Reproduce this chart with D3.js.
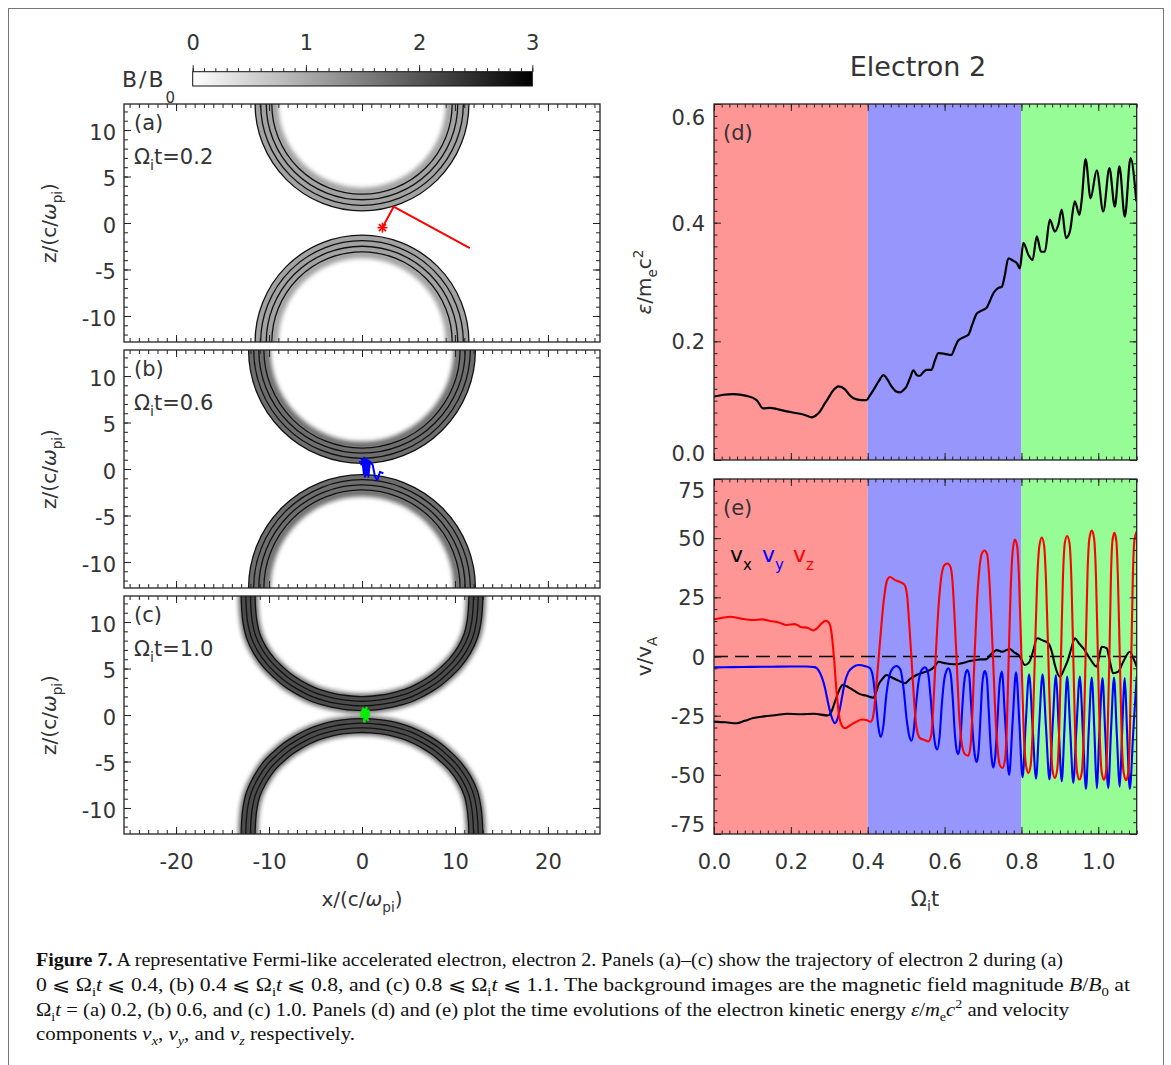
<!DOCTYPE html>
<html><head><meta charset="utf-8">
<script src="https://cdn.jsdelivr.net/npm/d3@7"></script>
<style>
body{margin:0;background:#fff}
svg{display:block}
text{font-family:"DejaVu Sans","Liberation Sans",Arial,sans-serif;fill:#333}
.cap text{font-family:"Liberation Serif","Times New Roman",serif;fill:#111}
</style>
</head><body>
<svg id="fig" width="1171" height="1065"></svg>
<script>
// ---------------- DATA ----------------
// Panel (d): kinetic energy eps/mec^2 vs Omega_i t
const energy = [[0,0.107],[0.025,0.110],[0.05,0.111],[0.085,0.108],[0.111,0.101],[0.128,0.087],[0.145,0.088],[0.163,0.086],[0.175,0.084],[0.189,0.082],[0.205,0.080],[0.224,0.078],[0.24,0.075],[0.254,0.072],[0.265,0.075],[0.276,0.082],[0.288,0.095],[0.297,0.104],[0.31,0.117],[0.324,0.124],[0.341,0.119],[0.352,0.110],[0.363,0.104],[0.384,0.101],[0.397,0.101],[0.405,0.108],[0.415,0.118],[0.428,0.132],[0.441,0.143],[0.452,0.135],[0.462,0.124],[0.473,0.116],[0.484,0.114],[0.493,0.118],[0.501,0.124],[0.51,0.138],[0.519,0.151],[0.528,0.143],[0.536,0.142],[0.546,0.149],[0.553,0.152],[0.566,0.152],[0.575,0.168],[0.584,0.180],[0.6,0.179],[0.618,0.177],[0.627,0.190],[0.636,0.202],[0.65,0.207],[0.662,0.211],[0.672,0.228],[0.684,0.247],[0.697,0.252],[0.709,0.256],[0.718,0.268],[0.727,0.281],[0.74,0.290],[0.749,0.292],[0.757,0.312],[0.766,0.340],[0.778,0.336],[0.788,0.332],[0.796,0.323],[0.805,0.366],[0.818,0.346],[0.829,0.337],[0.84,0.377],[0.851,0.351],[0.861,0.351],[0.874,0.405],[0.887,0.385],[0.896,0.396],[0.905,0.422],[0.916,0.374],[0.926,0.385],[0.939,0.436],[0.951,0.413],[0.957,0.439],[0.967,0.507],[0.98,0.441],[0.996,0.488],[1.013,0.419],[1.029,0.492],[1.043,0.427],[1.055,0.495],[1.069,0.410],[1.084,0.509],[1.099,0.436]];

// Panel (e): velocity components v/vA
const vx = [[0,-27.5],[0.03,-27.8],[0.059,-28.2],[0.08,-27.2],[0.102,-26.0],[0.13,-25.3],[0.163,-24.7],[0.19,-24.2],[0.224,-24.4],[0.26,-24.2],[0.297,-24.9],[0.305,-23.5],[0.315,-19.0],[0.325,-14.5],[0.335,-12.0],[0.345,-12.6],[0.354,-13.4],[0.37,-15.0],[0.38,-15.9],[0.395,-16.5],[0.415,-17.4],[0.422,-15],[0.428,-12.0],[0.438,-9.5],[0.449,-7.8],[0.458,-8.5],[0.467,-9.2],[0.48,-10.2],[0.497,-11.3],[0.51,-9.5],[0.527,-7.8],[0.545,-6.8],[0.566,-5.3],[0.575,-4.0],[0.584,-2.2],[0.6,-2.8],[0.615,-3.2],[0.632,-3.3],[0.65,-2.6],[0.666,-1.9],[0.69,-1.3],[0.709,-1.1],[0.72,0.8],[0.736,2.7],[0.75,2.0],[0.761,2.7],[0.77,3.2],[0.779,2.0],[0.796,0],[0.809,-3.6],[0.82,-2.5],[0.83,2.0],[0.841,7.7],[0.855,6.8],[0.87,5.6],[0.88,1.5],[0.887,-3.6],[0.9,-8.5],[0.912,-5.0],[0.921,-1.5],[0.93,3.5],[0.939,7.7],[0.95,5.5],[0.961,3.5],[0.978,-0.8],[0.996,-4.3],[1.003,0.5],[1.009,4.1],[1.022,3.5],[1.03,-2],[1.039,-7.1],[1.052,-6.4],[1.065,-2.2],[1.082,2.0],[1.092,-1.0],[1.1,-4.3]];

const vy = [[0,-4.6],[0.05,-4.5],[0.1,-4.4],[0.15,-4.3],[0.2,-4.2],[0.24,-4.2],[0.262,-4.5],[0.276,-7],[0.289,-13.4],[0.298,-20.5],[0.306,-25.5],[0.315,-28.2],[0.322,-26],[0.328,-21.8],[0.335,-15.5],[0.341,-10.6],[0.35,-6.5],[0.362,-4.5],[0.376,-3.6],[0.392,-4.0],[0.406,-5.0],[0.414,-9],[0.421,-19],[0.428,-30],[0.434,-34.0],[0.441,-29],[0.448,-17],[0.456,-8.5],[0.466,-4.8],[0.475,-4.0],[0.485,-5.5],[0.493,-13],[0.501,-26],[0.508,-33.5],[0.514,-35.6],[0.52,-31],[0.526,-20],[0.533,-10],[0.541,-5.5],[0.549,-4.6],[0.557,-7],[0.563,-16],[0.57,-30],[0.576,-37.5],[0.581,-39.3],[0.587,-34],[0.593,-20],[0.599,-10],[0.605,-6],[0.61,-5.0],[0.616,-7.5],[0.621,-17],[0.627,-33],[0.632,-40],[0.636,-41.2],[0.641,-36],[0.646,-22],[0.651,-11],[0.655,-7],[0.659,-5.7],[0.664,-8],[0.669,-20],[0.675,-36],[0.68,-43],[0.684,-44.6],[0.689,-39],[0.694,-24],[0.698,-12],[0.702,-7.2],[0.705,-6.1],[0.71,-9],[0.715,-23],[0.72,-38],[0.724,-45],[0.727,-46.9],[0.732,-42],[0.738,-26],[0.743,-12],[0.749,-6.4],[0.758,-28],[0.768,-50.0],[0.777,-28],[0.786,-6.7],[0.795,-29],[0.803,-51.1],[0.811,-29],[0.82,-7.5],[0.829,-29.5],[0.838,-51.6],[0.846,-29.5],[0.855,-7.5],[0.864,-30],[0.873,-52.0],[0.881,-30],[0.89,-7.8],[0.897,-30],[0.905,-52.7],[0.912,-30.5],[0.919,-8.5],[0.927,-31],[0.935,-53.4],[0.943,-31],[0.952,-8.5],[0.96,-32],[0.968,-56.0],[0.975,-32],[0.983,-8.9],[0.99,-32],[0.996,-55.6],[1.003,-32],[1.011,-9.1],[1.018,-32],[1.026,-55.6],[1.033,-32],[1.041,-8.9],[1.048,-32],[1.056,-55.0],[1.062,-32],[1.069,-9.1],[1.075,-32],[1.082,-56.0],[1.091,-32],[1.1,-8.5]];

const vz = [[0,15.7],[0.02,16.3],[0.042,16.8],[0.07,16.0],[0.102,15.4],[0.125,15.7],[0.146,15.0],[0.17,14.3],[0.189,13.3],[0.21,13.7],[0.224,12.6],[0.245,12.0],[0.258,11.0],[0.268,11.9],[0.28,14.0],[0.291,15.1],[0.299,14.3],[0.305,11.0],[0.312,0],[0.319,-15],[0.326,-25.5],[0.334,-29.5],[0.341,-30.3],[0.355,-29.0],[0.37,-27.6],[0.385,-26.6],[0.398,-26.9],[0.408,-27.6],[0.415,-24.5],[0.421,-15],[0.432,6.2],[0.442,24],[0.45,32],[0.458,33.6],[0.47,32.4],[0.484,31.5],[0.496,30.3],[0.503,25],[0.508,14],[0.514,-1],[0.52,-17],[0.527,-30],[0.536,-34.5],[0.548,-35.3],[0.558,-35.9],[0.565,-33.5],[0.571,-20],[0.577,0],[0.584,20.3],[0.591,33],[0.599,38.5],[0.607,39.3],[0.615,38.0],[0.62,33],[0.625,20],[0.631,0],[0.637,-22],[0.644,-36],[0.653,-41.3],[0.662,-41.9],[0.668,-37],[0.673,-22],[0.678,0],[0.684,22],[0.69,36],[0.697,43.5],[0.704,44.8],[0.711,43.0],[0.716,34],[0.721,18],[0.726,0],[0.731,-20],[0.737,-37],[0.744,-46],[0.751,-47.1],[0.757,-44],[0.762,-30],[0.767,0],[0.772,28],[0.777,44],[0.783,49.4],[0.789,46.5],[0.794,32],[0.8,0],[0.806,-32],[0.812,-46],[0.818,-49.2],[0.824,-46],[0.829,-32],[0.835,0],[0.841,32],[0.847,47],[0.853,50.3],[0.859,47],[0.864,32],[0.87,0],[0.876,-33],[0.881,-48],[0.887,-51.3],[0.893,-48],[0.898,-33],[0.903,0],[0.908,33],[0.913,48],[0.919,50.9],[0.925,48],[0.93,33],[0.935,0],[0.94,-34],[0.945,-49],[0.951,-52],[0.957,-49],[0.962,-34],[0.967,0],[0.972,35],[0.977,50],[0.983,53.2],[0.989,50],[0.994,34],[0.999,0],[1.004,-34],[1.009,-49],[1.015,-52.1],[1.02,-49],[1.024,-34],[1.029,0],[1.033,34],[1.037,49],[1.042,52.3],[1.047,49],[1.051,34],[1.056,0],[1.061,-34],[1.066,-49],[1.073,-52.3],[1.078,-49],[1.082,-34],[1.086,0],[1.09,34],[1.094,49],[1.1,52.8]];

// time phases shaded in (d),(e)
const phases = [0, 0.4, 0.8, 1.1];
const phaseColors = ["#ff9696", "#9696fc", "#96fc96"];

// Left panels (a)-(c): trajectories in x-z plane
const trajA = [[11.6,-2.7],[3.4,1.75],[2.2,-0.5]];
const trajB = [[2.3,-0.47],[1.94,-0.3],[1.65,-1.2],[1.4,-0.83],[1.15,0.43],[0.86,0.8],[0.68,-0.83],[0.5,1.0],[0.32,-0.83],[0.12,0.9],[0.45,-0.6],[0.72,0.9],[0.2,-0.5],[0.02,1.0],[0.55,0.2],[0.25,0.8]];
const trajC = [[0.3,-0.8],[0.1,0.7],[0.65,-0.55],[0.0,0.35],[0.75,0.45],[0.2,-0.7],[0.5,0.8],[-0.15,-0.2],[0.8,0.0],[0.3,0.55],[0.45,-0.45]];
const trajectories = [trajA, trajB, trajC];
const starPos = [[2.2,-0.5],[0.22,0.78],[0.3,0.15]];
const trajColors = ["#ff0000", "#0000ff", "#00f000"];
const panelLetters = ["(a)", "(b)", "(c)"];
const panelTimes = ["0.2", "0.6", "1.0"];

// Background field rings (B/B0 structures): outer radius, width, gray level
const ringCenters = [12.8, -12.8];
const ringOuter = [11.5, 12.2];
const ringWidth = [1.8, 1.65, 1.5];
const ringGray = ["#a2a2a2", "#6e6e6e", "#4c4c4c"];
// (c) deformed flux ropes, centre line of ring
const ringCUpper = [[-12.3,14],[-12.25,12.8],[-12.2,11.5],[-12.05,10],[-11.7,8.5],[-11,7.0],[-10,5.6],[-9,4.6],[-8,3.75],[-7,3.1],[-6,2.55],[-5,2.1],[-4,1.8],[-3,1.55],[-2,1.38],[-1,1.27],[0,1.23],[1,1.27],[2,1.38],[3,1.55],[4,1.8],[5,2.1],[6,2.55],[7,3.1],[8,3.75],[9,4.6],[10,5.6],[11,7.0],[11.7,8.5],[12.05,10],[12.2,11.5],[12.25,12.8],[12.3,14]];
const ringCLower = [[-12.3,-14],[-12.25,-12.8],[-12.2,-11.5],[-12.05,-10],[-11.7,-8.5],[-11,-7.0],[-10,-5.5],[-9,-4.5],[-8,-3.65],[-7,-3.0],[-6,-2.45],[-5,-2.0],[-4,-1.68],[-3,-1.43],[-2,-1.27],[-1,-1.17],[0,-1.13],[1,-1.17],[2,-1.27],[3,-1.43],[4,-1.68],[5,-2.0],[6,-2.45],[7,-3.0],[8,-3.65],[9,-4.5],[10,-5.5],[11,-6.9],[11.7,-8.4],[12.05,-10],[12.2,-11.5],[12.25,-12.8],[12.3,-14]];

// axes
const xDomainL = [-25.6, 25.6], zDomainL = [-12.8, 12.8];
const xTicksL = [-20, -10, 0, 10, 20];
const zTicksL = [-10, -5, 0, 5, 10];
const tDomain = [0, 1.1], eDomain = [0, 0.6], vDomain = [-75, 75];
const tTicks = [0, 0.2, 0.4, 0.6, 0.8, 1.0];
const eTicks = [0, 0.2, 0.4, 0.6];
const vTicks = [-75, -50, -25, 0, 25, 50, 75];
const cbDomain = [0, 3], cbTicks = [0, 1, 2, 3];

// ---------------- DRAWING ----------------
const svg = d3.select("#fig");
const defs = svg.append("defs");
defs.append("filter").attr("id", "soft").attr("x", "-20%").attr("y", "-20%").attr("width", "140%").attr("height", "140%")
  .append("feGaussianBlur").attr("stdDeviation", 2.2);
const grad = defs.append("linearGradient").attr("id", "cbar").attr("x1", 0).attr("x2", 1).attr("y1", 0).attr("y2", 0);
grad.append("stop").attr("offset", "0%").attr("stop-color", "#fff");
grad.append("stop").attr("offset", "100%").attr("stop-color", "#000");

// outer figure frame
svg.append("rect").attr("x", 8.5).attr("y", 8.5).attr("width", 1155).attr("height", 1080)
  .attr("fill", "none").attr("stroke", "#777").attr("stroke-width", 1);

// segments: [text, styles] where styles is a space separated list of: b i sub sup
function rich(sel, segs, fs, subShift) {
  let shift = 0;
  const sd = subShift == null ? 0.3 : subShift;
  segs.forEach(([t, s]) => {
    const st = s.split(" ");
    const ts = sel.append("tspan").text(t);
    let target = 0, size = fs;
    if (st.includes("sub")) { target = sd * fs; size = 0.68 * fs; }
    if (st.includes("sup")) { target = -0.42 * fs; size = 0.68 * fs; }
    ts.attr("dy", target - shift).attr("font-size", size);
    shift = target;
    if (st.includes("i")) ts.attr("font-style", "italic");
    if (st.includes("b")) ts.attr("font-weight", "bold");
  });
  return sel;
}

function styleAxis(g, fs) {
  g.select(".domain").remove();
  g.attr("font-family", null);
  g.selectAll(".tick line").attr("stroke", "#222").attr("stroke-width", 1);
  g.selectAll(".tick text").attr("font-size", fs).attr("fill", "#333");
}

function frameTicks(x0, x1, y0, y1, xs, ys, xMaj, xMin, yMaj, yMin, o) {
  const add = (axisFn, scale, vals, size, tx, ty, fmt, pad, fs) => {
    const a = axisFn(scale).tickValues(vals).tickSize(-size).tickPadding(pad || 3).tickFormat(fmt || (() => ""));
    const g = svg.append("g").attr("transform", `translate(${tx},${ty})`).call(a);
    styleAxis(g, fs || 21);
    return g;
  };
  add(d3.axisBottom, xs, xMin, o.minor, 0, y1);
  add(d3.axisTop, xs, xMin, o.minor, 0, y0);
  add(d3.axisLeft, ys, yMin, o.minor, x0, 0);
  add(d3.axisRight, ys, yMin, o.minor, x1, 0);
  const gb = add(d3.axisBottom, xs, xMaj, o.major, 0, y1, o.fmtX, 20);
  add(d3.axisTop, xs, xMaj, o.major, 0, y0);
  const gl = add(d3.axisLeft, ys, yMaj, o.major, x0, 0, o.fmtY, o.padY);
  add(d3.axisRight, ys, yMaj, o.major, x1, 0);
  gl.selectAll(".tick text").attr("dy", o.dyY || "0.38em");
  svg.append("rect").attr("x", x0).attr("y", y0).attr("width", x1 - x0).attr("height", y1 - y0)
    .attr("fill", "none").attr("stroke", "#222").attr("stroke-width", 1.3);
  return { gb, gl };
}

function star(g, px, py, color, r) {
  [0, 45, 90, 135].forEach(a => {
    const rad = a * Math.PI / 180;
    g.append("line").attr("x1", px - r * Math.cos(rad)).attr("y1", py - r * Math.sin(rad))
      .attr("x2", px + r * Math.cos(rad)).attr("y2", py + r * Math.sin(rad))
      .attr("stroke", color).attr("stroke-width", 1.6);
  });
}

// ---- Colorbar ----
const cb = d3.scaleLinear().domain(cbDomain).range([192.7, 532.3]);
svg.append("rect").attr("x", cb(0)).attr("y", 71.7).attr("width", cb(3) - cb(0)).attr("height", 14.3)
  .attr("fill", "url(#cbar)").attr("stroke", "#111").attr("stroke-width", 1);
{
  const gMin = svg.append("g").attr("transform", "translate(0,71.7)")
    .call(d3.axisTop(cb).tickValues(d3.range(0, 31).map(i => i / 10)).tickSize(3.5).tickFormat(() => ""));
  styleAxis(gMin, 22);
  const gMaj = svg.append("g").attr("transform", "translate(0,71.7)")
    .call(d3.axisTop(cb).tickValues(cbTicks).tickSize(6.5).tickPadding(15.5).tickFormat(d => String(d)));
  styleAxis(gMaj, 21);
}
rich(svg.append("text").attr("x", 122).attr("y", 86.7).attr("letter-spacing", 2), [["B/B", ""], ["0", "sub"]], 22, 0.72);

// ---- Left panels ----
const LX0 = 124, LX1 = 600, LH = 238, LTops = [104, 350, 596];
const xL = d3.scaleLinear().domain(xDomainL).range([LX0, LX1]);
const kL = (LX1 - LX0) / (xDomainL[1] - xDomainL[0]);

LTops.forEach((top, i) => {
  const bot = top + LH;
  const yL = d3.scaleLinear().domain(zDomainL).range([bot, top]);
  defs.append("clipPath").attr("id", "clipL" + i).append("rect")
    .attr("x", LX0).attr("y", top).attr("width", LX1 - LX0).attr("height", LH);
  const g = svg.append("g").attr("clip-path", `url(#clipL${i})`);
  g.append("rect").attr("x", LX0).attr("y", top).attr("width", LX1 - LX0).attr("height", LH).attr("fill", "#fff");
  const Wd = ringWidth[i], gray = ringGray[i], w = Wd * kL;
  const layers = [[w + 1.3, "#111"], [w - 1.3, gray], [w / 3 + 1.3, "#111"], [w / 3 - 1.3, gray]];
  if (i < 2) {
    const Ro = ringOuter[i];
    ringCenters.forEach(cz => {
      const cx = xL(0), cy = yL(cz);
      g.append("circle").attr("cx", cx).attr("cy", cy).attr("r", (Ro - Wd - 0.25) * kL)
        .attr("fill", "none").attr("stroke", gray).attr("stroke-width", 0.9 * kL).attr("filter", "url(#soft)");
      layers.forEach(([sw, c]) => g.append("circle").attr("cx", cx).attr("cy", cy).attr("r", (Ro - Wd / 2) * kL)
        .attr("fill", "none").attr("stroke", c).attr("stroke-width", sw));
    });
  } else {
    const lg = d3.line().x(d => xL(d[0])).y(d => yL(d[1])).curve(d3.curveCatmullRom.alpha(0.5));
    [ringCUpper, ringCLower].forEach(pts => {
      g.append("path").attr("d", lg(pts)).attr("fill", "none").attr("stroke", gray)
        .attr("stroke-width", w + 6).attr("filter", "url(#soft)").attr("opacity", 0.8);
      layers.forEach(([sw, c]) => g.append("path").attr("d", lg(pts)).attr("fill", "none")
        .attr("stroke", c).attr("stroke-width", sw));
    });
  }
  // trajectory
  const tl = d3.line().x(d => xL(d[0])).y(d => yL(d[1]));
  g.append("path").attr("d", tl(trajectories[i])).attr("fill", "none").attr("stroke", trajColors[i])
    .attr("stroke-width", 2).attr("stroke-linejoin", "round");
  star(g, xL(starPos[i][0]), yL(starPos[i][1]), trajColors[i], 5);

  frameTicks(LX0, LX1, top, bot, xL, yL, xTicksL, d3.range(-25, 26), zTicksL, d3.range(-12, 13),
    { major: 7, minor: 4, fmtX: i === 2 ? (d => String(d)) : null, fmtY: d => String(d), padY: 8, dyY: "0.45em" });

  svg.append("text").attr("x", 134).attr("y", top + 26).attr("font-size", 21).text(panelLetters[i]);
  rich(svg.append("text").attr("x", 134).attr("y", top + 60), [["Ω", ""], ["i", "sub"], ["t=" + panelTimes[i], ""]], 21, 0.28);
  rich(svg.append("text").attr("transform", `translate(56,${(top + bot) / 2}) rotate(-90)`).attr("text-anchor", "middle"),
    [["z/(c/", ""], ["ω", "i"], ["pi", "sub"], [")", ""]], 20, 0.3);
});
rich(svg.append("text").attr("x", 362).attr("y", 906).attr("text-anchor", "middle"),
  [["x/(c/", ""], ["ω", "i"], ["pi", "sub"], [")", ""]], 20, 0.3);

// ---- Right panels ----
const RX0 = 714, RX1 = 1136.7;
const D = { top: 104, bot: 460 }, E = { top: 479, bot: 834 };
const xR = d3.scaleLinear().domain(tDomain).range([RX0, RX1]);
const yD = d3.scaleLinear().domain(eDomain).range([D.bot, D.top]);
const yE = d3.scaleLinear().domain(vDomain).range([E.bot, E.top]);
const tMinor = d3.range(0, 56).map(i => i * 0.02);

[[D, "clipD"], [E, "clipE"]].forEach(([P, id]) => {
  defs.append("clipPath").attr("id", id).append("rect").attr("x", RX0).attr("y", P.top)
    .attr("width", RX1 - RX0).attr("height", P.bot - P.top);
  const g = svg.append("g").attr("clip-path", `url(#${id})`);
  phaseColors.forEach((c, j) => g.append("rect").attr("x", xR(phases[j])).attr("y", P.top)
    .attr("width", xR(phases[j + 1]) - xR(phases[j])).attr("height", P.bot - P.top).attr("fill", c));
});

const gD = svg.append("g").attr("clip-path", "url(#clipD)");
gD.append("path").attr("d", d3.line().x(d => xR(d[0])).y(d => yD(d[1])).curve(d3.curveMonotoneX)(energy))
  .attr("fill", "none").attr("stroke", "#000").attr("stroke-width", 2.2).attr("stroke-linejoin", "round");

const gE = svg.append("g").attr("clip-path", "url(#clipE)");
gE.append("line").attr("x1", xR(0)).attr("x2", xR(1.1)).attr("y1", yE(0)).attr("y2", yE(0))
  .attr("stroke", "#000").attr("stroke-width", 1.6).attr("stroke-dasharray", "14,7");
const lineE = d3.line().x(d => xR(d[0])).y(d => yE(d[1])).curve(d3.curveMonotoneX);
[[vx, "#000"], [vy, "#0000ff"], [vz, "#ff0000"]].forEach(([s, c]) =>
  gE.append("path").attr("d", lineE(s)).attr("fill", "none").attr("stroke", c).attr("stroke-width", 2.1).attr("stroke-linejoin", "round"));

const fd = frameTicks(RX0, RX1, D.top, D.bot, xR, yD, tTicks, tMinor, eTicks, d3.range(0, 31).map(i => i * 0.02),
  { major: 7, minor: 3.5, fmtX: null, fmtY: d3.format(".1f"), padY: 9, dyY: "0.36em" });
fd.gl.selectAll(".tick text").attr("y", d => d === 0.6 ? 12.5 : (d === 0 ? -7.5 : 0));
const fe = frameTicks(RX0, RX1, E.top, E.bot, xR, yE, tTicks, tMinor, vTicks, d3.range(-75, 76, 5),
  { major: 7, minor: 3.5, fmtX: d3.format(".1f"), fmtY: d => String(d), padY: 9, dyY: "0.36em" });
fe.gl.selectAll(".tick text").attr("y", d => d === 75 ? 11 : (d === -75 ? -10 : 0));

svg.append("text").attr("x", 723).attr("y", 140).attr("font-size", 21).text("(d)");
svg.append("text").attr("x", 723).attr("y", 515).attr("font-size", 21).text("(e)");
[["v", "x", "#000", 730], ["v", "y", "#0000ff", 762], ["v", "z", "#ff0000", 793]].forEach(([a, b, c, x]) => {
  const t = svg.append("text").attr("x", x).attr("y", 562);
  rich(t, [[a, ""], [b, "sub"]], 22, 0.36);
  t.selectAll("tspan").attr("fill", c);
});

svg.append("text").attr("x", 918).attr("y", 76).attr("text-anchor", "middle").attr("font-size", 27).attr("fill", "#222").text("Electron 2");
rich(svg.append("text").attr("transform", `translate(651,${(D.top + D.bot) / 2}) rotate(-90)`).attr("text-anchor", "middle"),
  [["ε", "i"], ["/m", ""], ["e", "sub"], ["c", ""], ["2", "sup"]], 20, 0.3);
rich(svg.append("text").attr("transform", `translate(651,${(E.top + E.bot) / 2}) rotate(-90)`).attr("text-anchor", "middle"),
  [["v/v", ""], ["A", "sub"]], 20, 0.3);
rich(svg.append("text").attr("x", 925).attr("y", 906).attr("text-anchor", "middle"),
  [["Ω", ""], ["i", "sub"], ["t", ""]], 21, 0.25);

// ---- Caption ----
const captionLines = [
  [[["Figure 7.", "b"], [" A representative Fermi-like accelerated electron, electron 2. Panels (a)–(c) show the trajectory of electron 2 during (a)", ""]], 966, 1027],
  [[["0 ⩽ Ω", ""], ["i", "sub"], ["t", "i"], [" ⩽ 0.4, (b) 0.4 ⩽ Ω", ""], ["i", "sub"], ["t", "i"], [" ⩽ 0.8, and (c) 0.8 ⩽ Ω", ""], ["i", "sub"], ["t", "i"], [" ⩽ 1.1. The background images are the magnetic field magnitude ", ""], ["B", "i"], ["/", ""], ["B", "i"], ["0", "sub"], [" at", ""]], 991, 1094],
  [[["Ω", ""], ["i", "sub"], ["t", "i"], [" = (a) 0.2, (b) 0.6, and (c) 1.0. Panels (d) and (e) plot the time evolutions of the electron kinetic energy ", ""], ["ε", "i"], ["/", ""], ["m", "i"], ["e", "sub"], ["c", "i"], ["2", "sup"], [" and velocity", ""]], 1016, 1033],
  [[["components ", ""], ["v", "i"], ["x", "i sub"], [", ", ""], ["v", "i"], ["y", "i sub"], [", and ", ""], ["v", "i"], ["z", "i sub"], [" respectively.", ""]], 1040, 319]
];
const capG = svg.append("g").attr("class", "cap");
captionLines.forEach(([segs, y, len]) => {
  const t = capG.append("text").attr("x", 36).attr("y", y).attr("font-size", 18)
    .attr("textLength", len).attr("lengthAdjust", "spacingAndGlyphs");
  rich(t, segs, 18, 0.25);
});
</script>
</body></html>
